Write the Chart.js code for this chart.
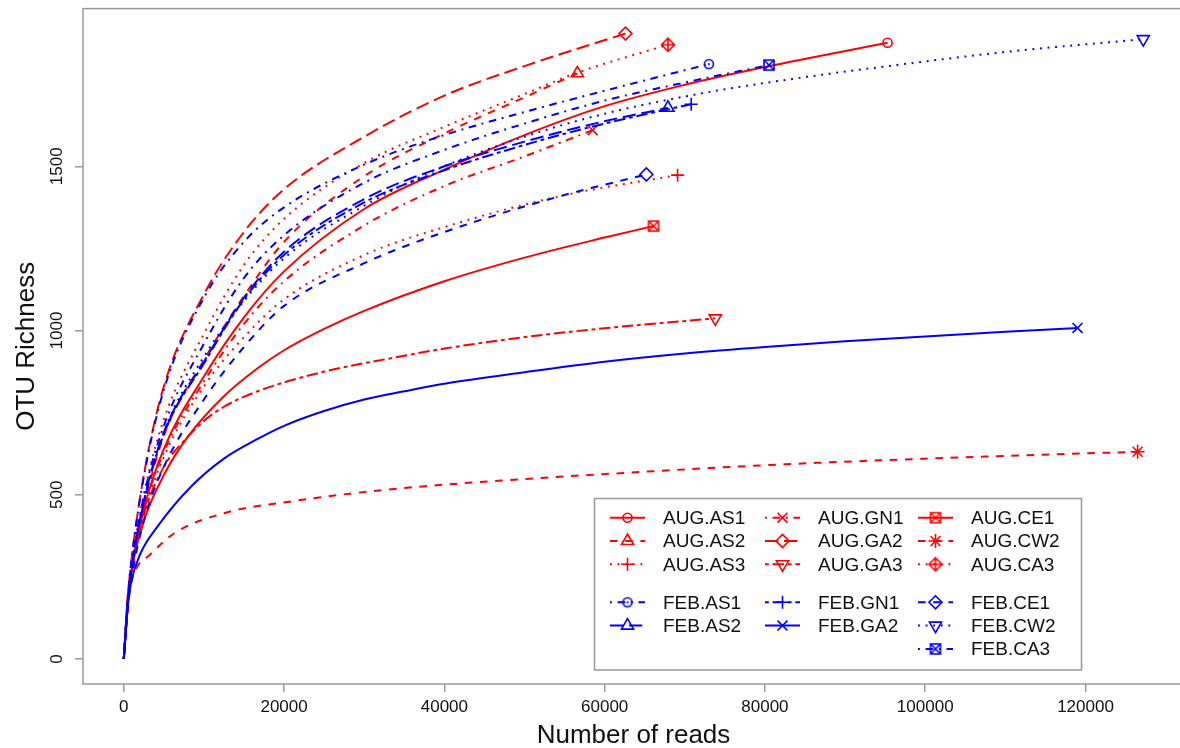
<!DOCTYPE html>
<html>
<head>
<meta charset="utf-8">
<title>OTU rarefaction curves</title>
<script src="https://cdn.jsdelivr.net/npm/chart.js@4.4.1/dist/chart.umd.min.js"></script>
<style>
  html, body { margin: 0; padding: 0; background: #fff; overflow: hidden; }
  #wrap { position: relative; width: 1200px; height: 748px; }
</style>
</head>
<body>
<div id="wrap"><canvas id="rareChart"></canvas></div>
<script>
// rarefaction curves, one array per sample: [number of reads, OTU richness]
const augAS1 = [[0,0],[500,165],[1000,270],[2500,455],[5000,640],[10000,860],[15000,1040],[20000,1180],[30000,1370],[40000,1490],[50000,1595],[60000,1683],[70000,1748],[80000,1802],[95300,1876]];
const augAS2 = [[0,0],[500,165],[1000,270],[2500,460],[5000,680],[10000,910],[15000,1105],[20000,1270],[30000,1470],[40000,1600],[50000,1710],[56600,1783]];
const augAS3 = [[0,0],[500,160],[1000,260],[2500,440],[5000,615],[10000,830],[15000,980],[20000,1095],[30000,1230],[40000,1315],[54600,1410],[69100,1473]];
const augGN1 = [[0,0],[500,165],[1000,265],[2500,450],[5000,630],[10000,845],[15000,1020],[20000,1150],[30000,1320],[40000,1440],[50000,1530],[58500,1610]];
const augGA2 = [[0,0],[500,190],[1000,310],[2500,560],[5000,830],[10000,1110],[15000,1300],[20000,1430],[30000,1590],[40000,1715],[50000,1805],[62600,1904]];
const augGA3 = [[0,0],[500,180],[1000,280],[2500,440],[5000,585],[8000,677],[10000,725],[12500,768],[16700,815],[25000,875],[33400,916],[40000,945],[50000,980],[60000,1007],[73800,1037]];
const augCE1 = [[0,0],[500,185],[1000,275],[2500,420],[5000,560],[8000,677],[12500,800],[16700,885],[20000,940],[25000,1005],[30000,1060],[40000,1150],[50000,1222],[60000,1283],[66100,1318]];
const augCW2 = [[0,0],[500,170],[1000,240],[1700,282],[3000,312],[6300,383],[12500,444],[20900,480],[33400,517],[50000,548],[60000,563],[80000,590],[100000,610],[126500,631]];
const augCA3 = [[0,0],[500,175],[1000,290],[2500,500],[5000,730],[10000,990],[15000,1200],[20000,1340],[30000,1510],[40000,1620],[50000,1720],[56600,1785],[67900,1870]];
const febAS1 = [[0,0],[500,190],[1000,310],[2500,555],[5000,820],[10000,1100],[15000,1270],[20000,1375],[30000,1505],[40000,1595],[50000,1665],[60000,1730],[73000,1811]];
const febAS2 = [[0,0],[500,170],[1000,280],[2500,480],[5000,690],[10000,905],[15000,1100],[20000,1240],[30000,1400],[40000,1500],[50000,1575],[59600,1635],[67900,1678]];
const febGN1 = [[0,0],[500,170],[1000,280],[2500,475],[5000,685],[10000,900],[15000,1095],[20000,1230],[30000,1390],[40000,1488],[50000,1565],[60000,1630],[70800,1689]];
const febGA2 = [[0,0],[500,160],[900,231],[2100,322],[4200,403],[8400,525],[12500,610],[16700,670],[20000,710],[25000,755],[30000,790],[35000,815],[40000,838],[50000,873],[60000,905],[70000,930],[80000,950],[90000,967],[100000,982],[110000,996],[119000,1008]];
const febCE1 = [[0,0],[500,155],[1000,250],[2500,420],[5000,585],[10000,790],[15000,950],[20000,1075],[30000,1205],[40000,1300],[54600,1410],[65200,1475]];
const febCW2 = [[0,0],[500,170],[1000,280],[2500,475],[5000,690],[10000,920],[15000,1090],[20000,1220],[30000,1380],[40000,1500],[50000,1590],[60000,1660],[72100,1722],[84600,1770],[97000,1810],[110000,1848],[127200,1887]];
const febCA3 = [[0,0],[500,175],[1000,285],[2500,495],[5000,710],[10000,960],[15000,1160],[20000,1290],[30000,1450],[40000,1550],[50000,1630],[60000,1700],[70000,1755],[80500,1808]];

const sampleNames = ["AUG.AS1","AUG.AS2","AUG.AS3","AUG.GN1","AUG.GA2","AUG.GA3","AUG.CE1","AUG.CW2","AUG.CA3",
                     "FEB.AS1","FEB.AS2","FEB.GN1","FEB.GA2","FEB.CE1","FEB.CW2","FEB.CA3"];
const sampleCurves = [augAS1, augAS2, augAS3, augGN1, augGA2, augGA3, augCE1, augCW2, augCA3,
                      febAS1, febAS2, febGN1, febGA2, febCE1, febCW2, febCA3];

const xTicks = [0, 20000, 40000, 60000, 80000, 100000, 120000];
const yTicks = [0, 500, 1000, 1500];

// ---- styles ----
const RED = "#ff0000", BLUE = "#0000ff";
const FRAME = "#9a9a9a";
const FONT = "'Liberation Sans', Arial, sans-serif";
const LINE_W = 2;

const sampleColor = sampleNames.map(n => n.startsWith("AUG") ? RED : BLUE);
const sampleLty = ["solid","dashed","dotted","dotdash","longdash","twodash","solid","dashed","dotted",
                   "dotdash","longdash","twodash","solid","dashed","dotted","dotdash"];

// R-like line types
const U = 1.9;
const LTY = {
    solid: [],
    dashed: [4 * U, 4 * U],
    dotted: [1 * U, 3 * U],
    dotdash: [1 * U, 3 * U, 4 * U, 3 * U],
    longdash: [7 * U, 3 * U],
    twodash: [2 * U, 2 * U, 6 * U, 2 * U]
};

// small canvases for the composite symbols
function makeSymbol(color, draw) {
    const c = document.createElement("canvas");
    c.width = 18; c.height = 18;
    const g = c.getContext("2d");
    g.translate(9, 9);
    g.strokeStyle = color;
    g.fillStyle = color;
    g.lineWidth = 1.6;
    draw(g);
    return c;
}
const boxX = col => makeSymbol(col, g => {
    g.strokeRect(-5, -5, 10, 10);
    g.beginPath();
    g.moveTo(-5, -5); g.lineTo(5, 5);
    g.moveTo(-5, 5); g.lineTo(5, -5);
    g.stroke();
});
const diamondPlus = col => makeSymbol(col, g => {
    g.beginPath();
    g.moveTo(0, -6.5); g.lineTo(6.5, 0); g.lineTo(0, 6.5); g.lineTo(-6.5, 0); g.closePath();
    g.moveTo(-6.5, 0); g.lineTo(6.5, 0);
    g.moveTo(0, -6.5); g.lineTo(0, 6.5);
    g.stroke();
});
const circleDot = col => makeSymbol(col, g => {
    g.beginPath(); g.arc(0, 0, 4.5, 0, Math.PI * 2); g.stroke();
    g.beginPath(); g.arc(0, 0, 1.1, 0, Math.PI * 2); g.fill();
});

const sampleMarker = [
    { style: "circle", radius: 4.5 },
    { style: "triangle", radius: 7 },
    { style: "cross", radius: 6.5 },
    { style: "crossRot", radius: 7 },
    { style: "rectRot", radius: 6.5 },
    { style: "triangle", radius: 7, rotation: 180 },
    { style: boxX(RED), radius: 6 },
    { style: "star", radius: 7 },
    { style: diamondPlus(RED), radius: 6 },
    { style: circleDot(BLUE), radius: 6 },
    { style: "triangle", radius: 7 },
    { style: "cross", radius: 6.5 },
    { style: "crossRot", radius: 7 },
    { style: "rectRot", radius: 6.5 },
    { style: "triangle", radius: 7, rotation: 180 },
    { style: boxX(BLUE), radius: 6 }
];

// legend slots: [column, row]
const legendSlots = [[0,0],[0,1],[0,2],[1,0],[1,1],[1,2],[2,0],[2,1],[2,2],
                     [0,3],[0,4],[1,3],[1,4],[2,3],[2,4],[2,5]];

const datasets = sampleNames.map((name, i) => {
    const pts = sampleCurves[i].map(p => ({ x: p[0], y: p[1] }));
    const last = pts.length - 1;
    const mk = sampleMarker[i];
    return {
        label: name,
        data: pts,
        borderColor: sampleColor[i],
        borderWidth: LINE_W,
        borderDash: LTY[sampleLty[i]],
        fill: false,
        cubicInterpolationMode: "monotone",
        pointStyle: mk.style,
        pointRotation: mk.rotation || 0,
        pointRadius: c => c.dataIndex === last ? mk.radius : 0,
        pointHoverRadius: 0,
        pointBorderColor: sampleColor[i],
        pointBackgroundColor: "rgba(0,0,0,0)",
        pointBorderWidth: 1.6,
        order: sampleNames.length - i
    };
});

// frame, rotated y labels, axis titles and legend
const decorations = {
    id: "decorations",
    afterDraw(chart) {
        const { ctx, chartArea: a, scales } = chart;
        ctx.save();

        ctx.strokeStyle = FRAME;
        ctx.lineWidth = 1.5;
        ctx.strokeRect(a.left, a.top, a.right - a.left, a.bottom - a.top);

        ctx.fillStyle = "#111";
        ctx.font = "17px " + FONT;
        ctx.textAlign = "center";
        ctx.textBaseline = "middle";
        yTicks.forEach(v => {
            ctx.save();
            ctx.translate(57.5, scales.y.getPixelForValue(v));
            ctx.rotate(-Math.PI / 2);
            ctx.fillText(String(v), 0, 0);
            ctx.restore();
        });

        ctx.font = "26px " + FONT;
        ctx.fillText("Number of reads", (a.left + a.right) / 2, 736);
        ctx.save();
        ctx.translate(27, (a.top + a.bottom) / 2);
        ctx.rotate(-Math.PI / 2);
        ctx.fillText("OTU Richness", 0, 0);
        ctx.restore();

        // legend
        ctx.fillStyle = "#fff";
        ctx.fillRect(594.5, 498.5, 487, 171.5);
        ctx.strokeStyle = FRAME;
        ctx.lineWidth = 1.5;
        ctx.strokeRect(594.5, 498.5, 487, 171.5);

        const colX = [610, 765, 918];
        ctx.font = "19px " + FONT;
        ctx.textAlign = "left";
        sampleNames.forEach((name, i) => {
            const [c, r] = legendSlots[i];
            const x0 = colX[c];
            const y = r < 3 ? 517.7 + r * 23.3 : 602.3 + (r - 3) * 23.3;
            const mk = sampleMarker[i];
            ctx.strokeStyle = sampleColor[i];
            ctx.lineWidth = LINE_W;
            ctx.setLineDash(LTY[sampleLty[i]]);
            ctx.beginPath();
            ctx.moveTo(x0, y);
            ctx.lineTo(x0 + 35, y);
            ctx.stroke();
            ctx.setLineDash([]);
            ctx.lineWidth = 1.6;
            ctx.fillStyle = "rgba(0,0,0,0)";
            Chart.helpers.drawPoint(ctx, {
                pointStyle: mk.style, rotation: mk.rotation || 0,
                radius: mk.radius, borderWidth: 1.6
            }, x0 + 17.5, y);
            ctx.fillStyle = "#111";
            ctx.fillText(name, x0 + 53, y + 1);
        });

        ctx.restore();
    }
};

new Chart(document.getElementById("rareChart").getContext("2d"), {
    type: "line",
    data: { datasets: datasets },
    plugins: [decorations],
    options: {
        responsive: true,
        maintainAspectRatio: false,
        animation: false,
        events: [],
        layout: { padding: { left: 0, top: 8, right: 16, bottom: 0 } },
        plugins: {
            legend: { display: false },
            tooltip: { enabled: false }
        },
        scales: {
            x: {
                type: "linear",
                min: -5088,
                max: 132288,
                afterBuildTicks: s => { s.ticks = xTicks.map(v => ({ value: v })); },
                afterFit: s => { s.height = 64; },
                grid: { drawOnChartArea: false, drawTicks: true, tickLength: 8, color: FRAME, lineWidth: 1.5 },
                border: { display: false },
                ticks: {
                    color: "#111",
                    font: { family: FONT, size: 17 },
                    padding: 5,
                    maxRotation: 0,
                    autoSkip: false,
                    callback: v => String(v)
                }
            },
            y: {
                type: "linear",
                min: -76,
                max: 1980,
                afterBuildTicks: s => { s.ticks = yTicks.map(v => ({ value: v })); },
                afterFit: s => { s.width = 83; },
                grid: { drawOnChartArea: false, drawTicks: true, tickLength: 8, color: FRAME, lineWidth: 1.5 },
                border: { display: false },
                ticks: { display: false }
            }
        }
    }
});
</script>
</body>
</html>
